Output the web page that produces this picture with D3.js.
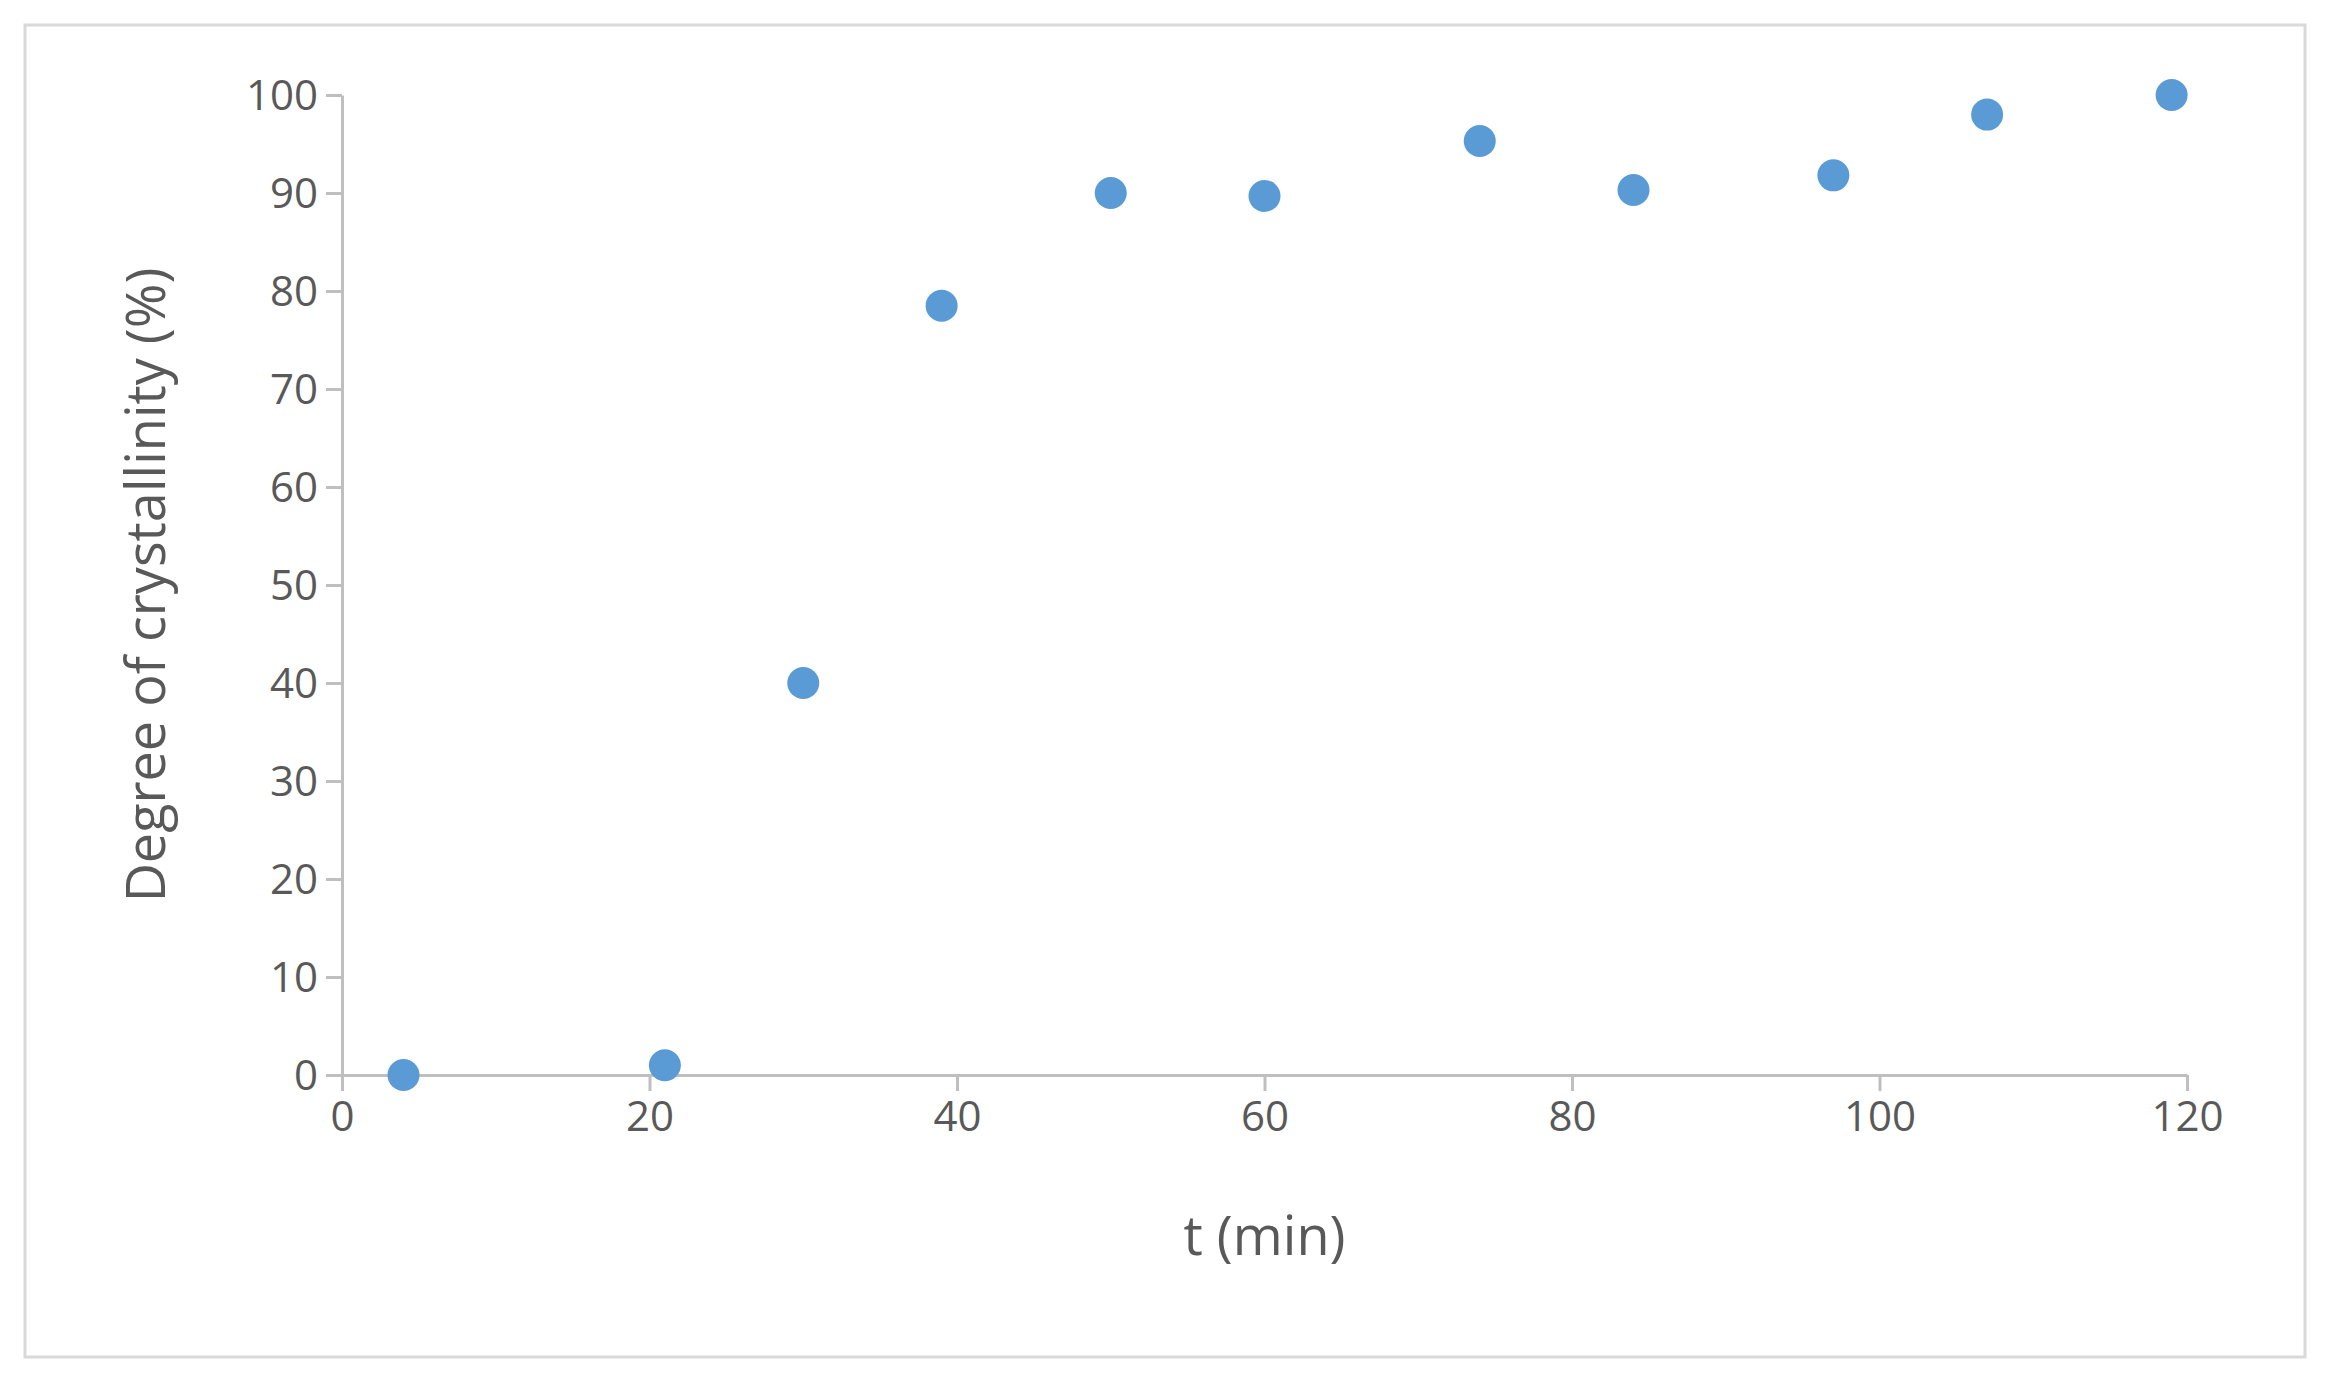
<!DOCTYPE html>
<html><head><meta charset="utf-8">
<script src="https://cdn.jsdelivr.net/npm/d3@7"></script>
<style>body{margin:0;background:#fff}</style></head>
<body><svg id="c" width="2328" height="1380"></svg>
<script>
const tValues=[4,21,30,39,50,60,74,84,97,107,119];
const crystallinity=[0,1,40,78.5,90,89.7,95.3,90.3,91.8,98,100];
const xTicks=[0,20,40,60,80,100,120];
const yTicks=[0,10,20,30,40,50,60,70,80,90,100];
const svg=d3.select("#c");
const font="'Open Sans', 'Liberation Sans', sans-serif";
svg.append("rect").attr("x",25).attr("y",25).attr("width",2280).attr("height",1332)
 .attr("fill","#fff").attr("stroke","#d9d9d9").attr("stroke-width",3);
const x=d3.scaleLinear().domain([0,120]).range([342,2187]);
const y=d3.scaleLinear().domain([0,100]).range([1075,95]);
const gx=svg.append("g").attr("transform","translate(0,1075)")
 .call(d3.axisBottom(x).tickValues(xTicks).tickSize(16).tickSizeOuter(0).tickPadding(10));
const gy=svg.append("g").attr("transform","translate(342,0)")
 .call(d3.axisLeft(y).tickValues(yTicks).tickSize(16).tickSizeOuter(0).tickPadding(8));
[gx,gy].forEach(g=>{g.selectAll("path,line").attr("stroke","#bfbfbf").attr("stroke-width",3);
 g.selectAll("text").attr("fill","#595959").style("font-family",font).style("font-size","42px");});
gy.selectAll("text").attr("dy","0.35em");
svg.append("g").selectAll("circle").data(tValues).join("circle")
 .attr("cx",d=>x(d)).attr("cy",(d,i)=>y(crystallinity[i])).attr("r",16).attr("fill","#5b9bd5");
svg.append("text").attr("x",x(60)).attr("y",1255).attr("text-anchor","middle")
 .attr("fill","#595959").style("font-family",font).style("font-size","54px").text("t (min)");
svg.append("text").attr("transform",`translate(165,${y(50)}) rotate(-90)`).attr("text-anchor","middle")
 .attr("fill","#595959").style("font-family",font).style("font-size","54px").text("Degree of crystallinity (%)");
</script></body></html>
